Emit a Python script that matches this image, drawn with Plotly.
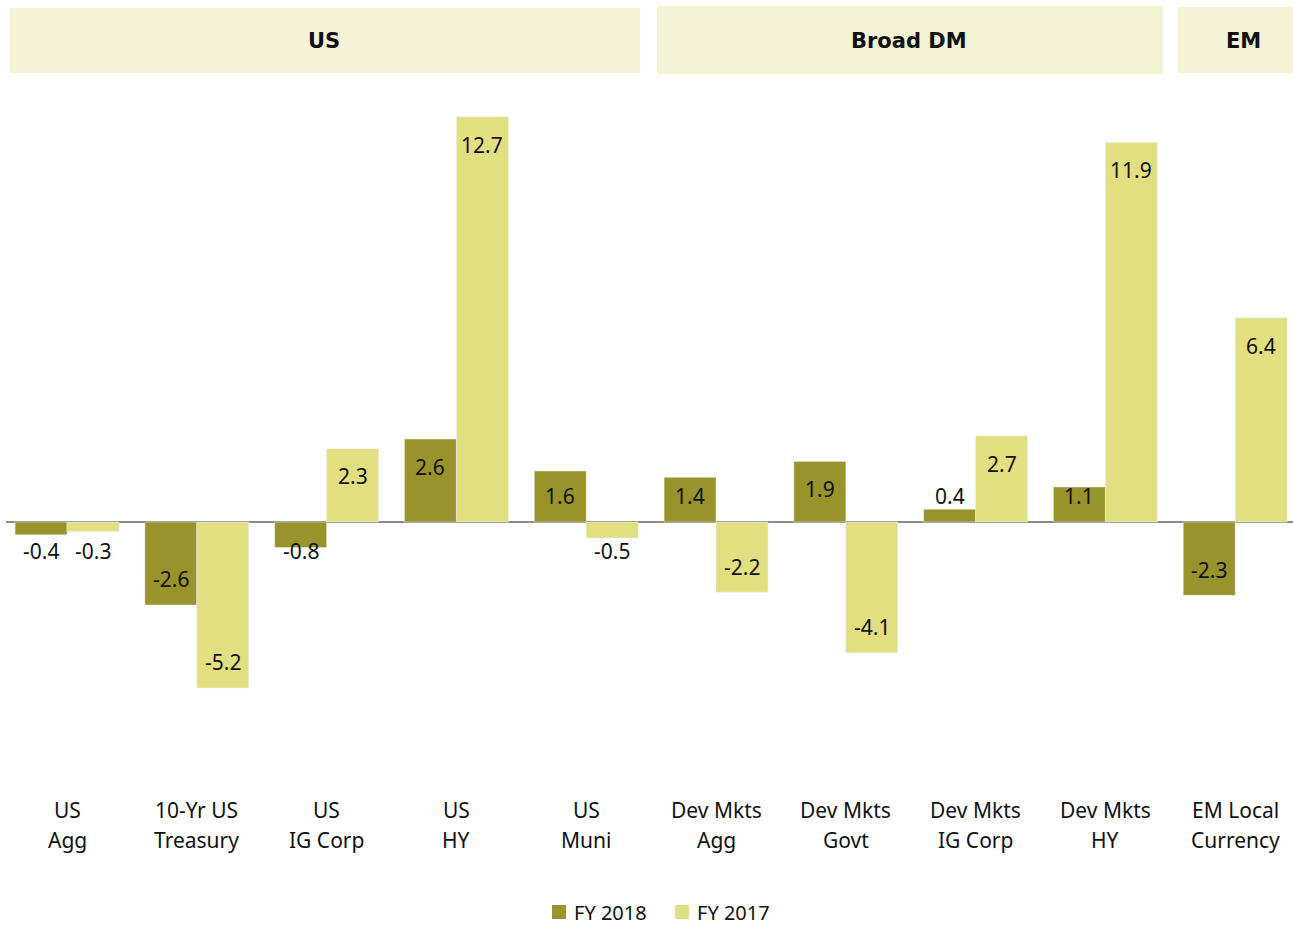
import plotly.graph_objects as go

# Categories (two-line labels) and annual returns (%)
line1 = ["US", "10-Yr US", "US", "US", "US", "Dev Mkts", "Dev Mkts", "Dev Mkts", "Dev Mkts", "EM Local"]
line2 = ["Agg", "Treasury", "IG Corp", "HY", "Muni", "Agg", "Govt", "IG Corp", "HY", "Currency"]
series_names = ["FY 2018", "FY 2017"]
fy2018 = [-0.4, -2.6, -0.8, 2.6, 1.6, 1.4, 1.9, 0.4, 1.1, -2.3]
fy2017 = [-0.3, -5.2, 2.3, 12.7, -0.5, -2.2, -4.1, 2.7, 11.9, 6.4]

# Region headers
regions = ["US", "Broad DM", "EM"]

DARK = "#98932A"
LIGHT = "#E2DF80"
BAND = "#F4F3D5"
FONT = "Noto Sans"
INK = "#111111"

W, H = 1293, 926
ML, MR, MT, MB = 6, 0, 80, 146
PW, PH = W - ML - MR, H - MT - MB

x_idx = list(range(len(line1)))
X0, DX = 67, 129.8          # pixel centre of first category, category pitch
xr = [-(X0 - ML) / DX, (W - MR - X0) / DX]
ZERO_PX, UNIT = 522, 31.9   # zero line pixel row, pixels per percentage point
yr = [-(MT + PH - ZERO_PX) / UNIT, (ZERO_PX - MT) / UNIT]

fig = go.Figure()
fig.add_trace(go.Bar(x=x_idx, y=fy2018, name=series_names[0], marker_color=DARK,
                     showlegend=False))
fig.add_trace(go.Bar(x=x_idx, y=fy2017, name=series_names[1], marker_color=LIGHT,
                     showlegend=False))

ann = []
# value labels near the bar ends
for off, vals in ((-0.2, fy2018), (0.2, fy2017)):
    for i, v in enumerate(vals):
        ypos = max(v - 0.87, 0.82) if v >= 0 else min(v + 0.8, -0.9)
        ann.append(dict(x=i + off, y=ypos, xref="x", yref="y", text=f"{v:.1f}",
                        showarrow=False, font=dict(family=FONT, size=21, color=INK),
                        xanchor="center", yanchor="middle"))


def py(p):
    return (MT + PH - p) / PH


def px(p):
    return (p - ML) / PW


# category labels
for i in x_idx:
    for txt, row in ((line1[i], 810), (line2[i], 840)):
        ann.append(dict(x=i, y=py(row), xref="x", yref="paper", text=txt, showarrow=False,
                        font=dict(family=FONT, size=21, color=INK),
                        xanchor="center", yanchor="middle"))

# region header bands
band_px = {"US": (10, 640, 8, 73), "Broad DM": (657, 1163, 6, 74), "EM": (1178, 1293, 7, 73)}
label_px = {"US": 324, "Broad DM": 909, "EM": 1243}
shapes = []
for name in regions:
    x0, x1, y0, y1 = band_px[name]
    shapes.append(dict(type="rect", xref="paper", yref="paper", x0=px(x0), x1=px(x1),
                       y0=py(y1), y1=py(y0), fillcolor=BAND, line_width=0, layer="below"))
    ann.append(dict(x=px(label_px[name]), y=py(41), xref="paper", yref="paper", text=name,
                    showarrow=False,
                    font=dict(family="DejaVu Sans", size=21, color=INK, weight="bold"),
                    xanchor="center", yanchor="middle"))

# legend: swatch + series name
LEG_Y = 912
for (sx, name, col) in ((552, series_names[0], DARK), (675, series_names[1], LIGHT)):
    shapes.append(dict(type="rect", xref="paper", yref="paper", x0=px(sx), x1=px(sx + 14),
                       y0=py(LEG_Y + 7), y1=py(LEG_Y - 7), fillcolor=col, line_width=0))
    ann.append(dict(x=px(sx + 20), y=py(LEG_Y), xref="paper", yref="paper", text=name,
                    showarrow=False, font=dict(family=FONT, size=20, color=INK),
                    xanchor="left", yanchor="middle"))

fig.update_layout(
    width=W, height=H,
    margin=dict(l=ML, r=MR, t=MT, b=MB),
    paper_bgcolor="white", plot_bgcolor="white",
    barmode="group", bargap=0.2, bargroupgap=0,
    xaxis=dict(range=xr, showticklabels=False, showgrid=False, zeroline=False, fixedrange=True),
    yaxis=dict(range=yr, showticklabels=False, showgrid=False, zeroline=True,
               zerolinecolor="#8C8C8C", zerolinewidth=2),
    showlegend=False,
    annotations=ann, shapes=shapes,
)

fig.write_html("out.html")
